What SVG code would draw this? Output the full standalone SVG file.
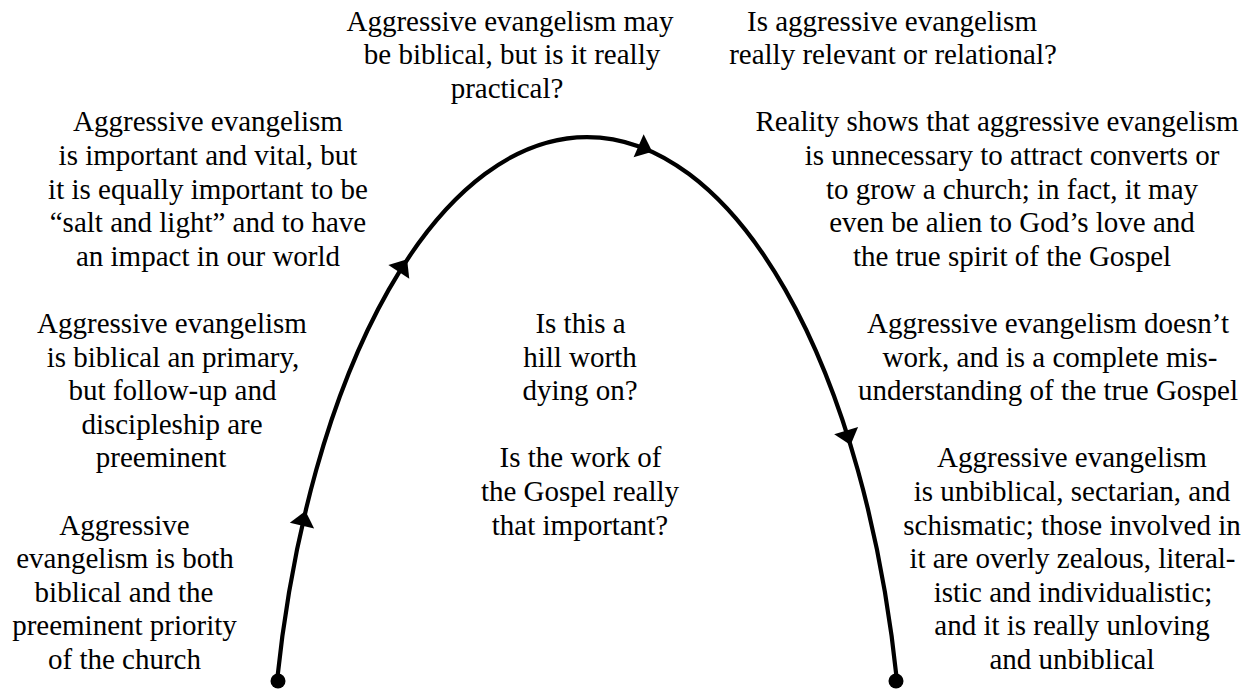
<svg xmlns="http://www.w3.org/2000/svg" xmlns:xlink="http://www.w3.org/1999/xlink" width="1258" height="691" viewBox="0 0 1258 691">
<style>
text { font-family: "Liberation Serif", "Times New Roman", serif; font-size: 29px; fill: #000; text-anchor: middle; }
.curve { fill: none; stroke: #000; stroke-width: 4.2; }
.ah { fill: #000; }
.dot { fill: #000; }
</style>
<defs>
<path id="ah" class="ah" d="M2,0 L-13,-12.5 L-13,12.5 Z"/>
</defs>
<rect width="1258" height="691" fill="#fff"/>
<g id="connectors">
<path class="curve" d="M 277 681 A 318 700 0 0 1 897 681"/>
<use xlink:href="#ah" href="#ah" transform="translate(305,513) rotate(-76.6)"/>
<use xlink:href="#ah" href="#ah" transform="translate(406,261) rotate(-56.5)"/>
<use xlink:href="#ah" href="#ah" transform="translate(650.5,151) rotate(23.8)"/>
<use xlink:href="#ah" href="#ah" transform="translate(850,443) rotate(72.8)"/>
<circle class="dot" cx="278" cy="681" r="7.5"/>
<circle class="dot" cx="896" cy="681" r="7.5"/>
</g>
<g id="node-top-middle">
<text x="510" y="30.5">Aggressive evangelism may</text>
<text x="512" y="64.1">be biblical, but is it really</text>
<text x="507" y="97.7">practical?</text>
</g>
<g id="node-top-right">
<text x="892" y="30.5">Is aggressive evangelism</text>
<text x="893" y="64.1">really relevant or relational?</text>
</g>
<g id="node-left-top">
<text x="208" y="131.3">Aggressive evangelism</text>
<text x="208" y="164.9">is important and vital, but</text>
<text x="208" y="198.5">it is equally important to be</text>
<text x="208" y="232.1">“salt and light” and to have</text>
<text x="208" y="265.7">an impact in our world</text>
</g>
<g id="node-right-top">
<text x="997" y="131.3">Reality shows that aggressive evangelism</text>
<text x="1012" y="164.9">is unnecessary to attract converts or</text>
<text x="1012" y="198.5">to grow a church; in fact, it may</text>
<text x="1012" y="232.1">even be alien to God’s love and</text>
<text x="1012" y="265.7">the true spirit of the Gospel</text>
</g>
<g id="node-left-middle">
<text x="172" y="332.9">Aggressive evangelism</text>
<text x="173" y="366.5">is biblical an primary,</text>
<text x="172.5" y="400.1">but follow-up and</text>
<text x="172" y="433.7">discipleship are</text>
<text x="161" y="467.3">preeminent</text>
</g>
<g id="node-center">
<text x="580.5" y="332.9">Is this a</text>
<text x="580" y="366.5">hill worth</text>
<text x="580" y="400.1">dying on?</text>
<text x="580.5" y="467.3">Is the work of</text>
<text x="580" y="500.9">the Gospel really</text>
<text x="580" y="534.5">that important?</text>
</g>
<g id="node-right-middle">
<text x="1048" y="332.9">Aggressive evangelism doesn’t</text>
<text x="1050" y="366.5">work, and is a complete mis-</text>
<text x="1048" y="400.1">understanding of the true Gospel</text>
</g>
<g id="node-left-bottom">
<text x="124.5" y="534.5">Aggressive</text>
<text x="125" y="568.1">evangelism is both</text>
<text x="124" y="601.7">biblical and the</text>
<text x="124.5" y="635.3">preeminent priority</text>
<text x="124.5" y="668.9">of the church</text>
</g>
<g id="node-right-bottom">
<text x="1072" y="467.3">Aggressive evangelism</text>
<text x="1072" y="500.9">is unbiblical, sectarian, and</text>
<text x="1072" y="534.5">schismatic; those involved in</text>
<text x="1072.5" y="568.1">it are overly zealous, literal-</text>
<text x="1073" y="601.7">istic and individualistic;</text>
<text x="1072" y="635.3">and it is really unloving</text>
<text x="1072" y="668.9">and unbiblical</text>
</g>
</svg>
